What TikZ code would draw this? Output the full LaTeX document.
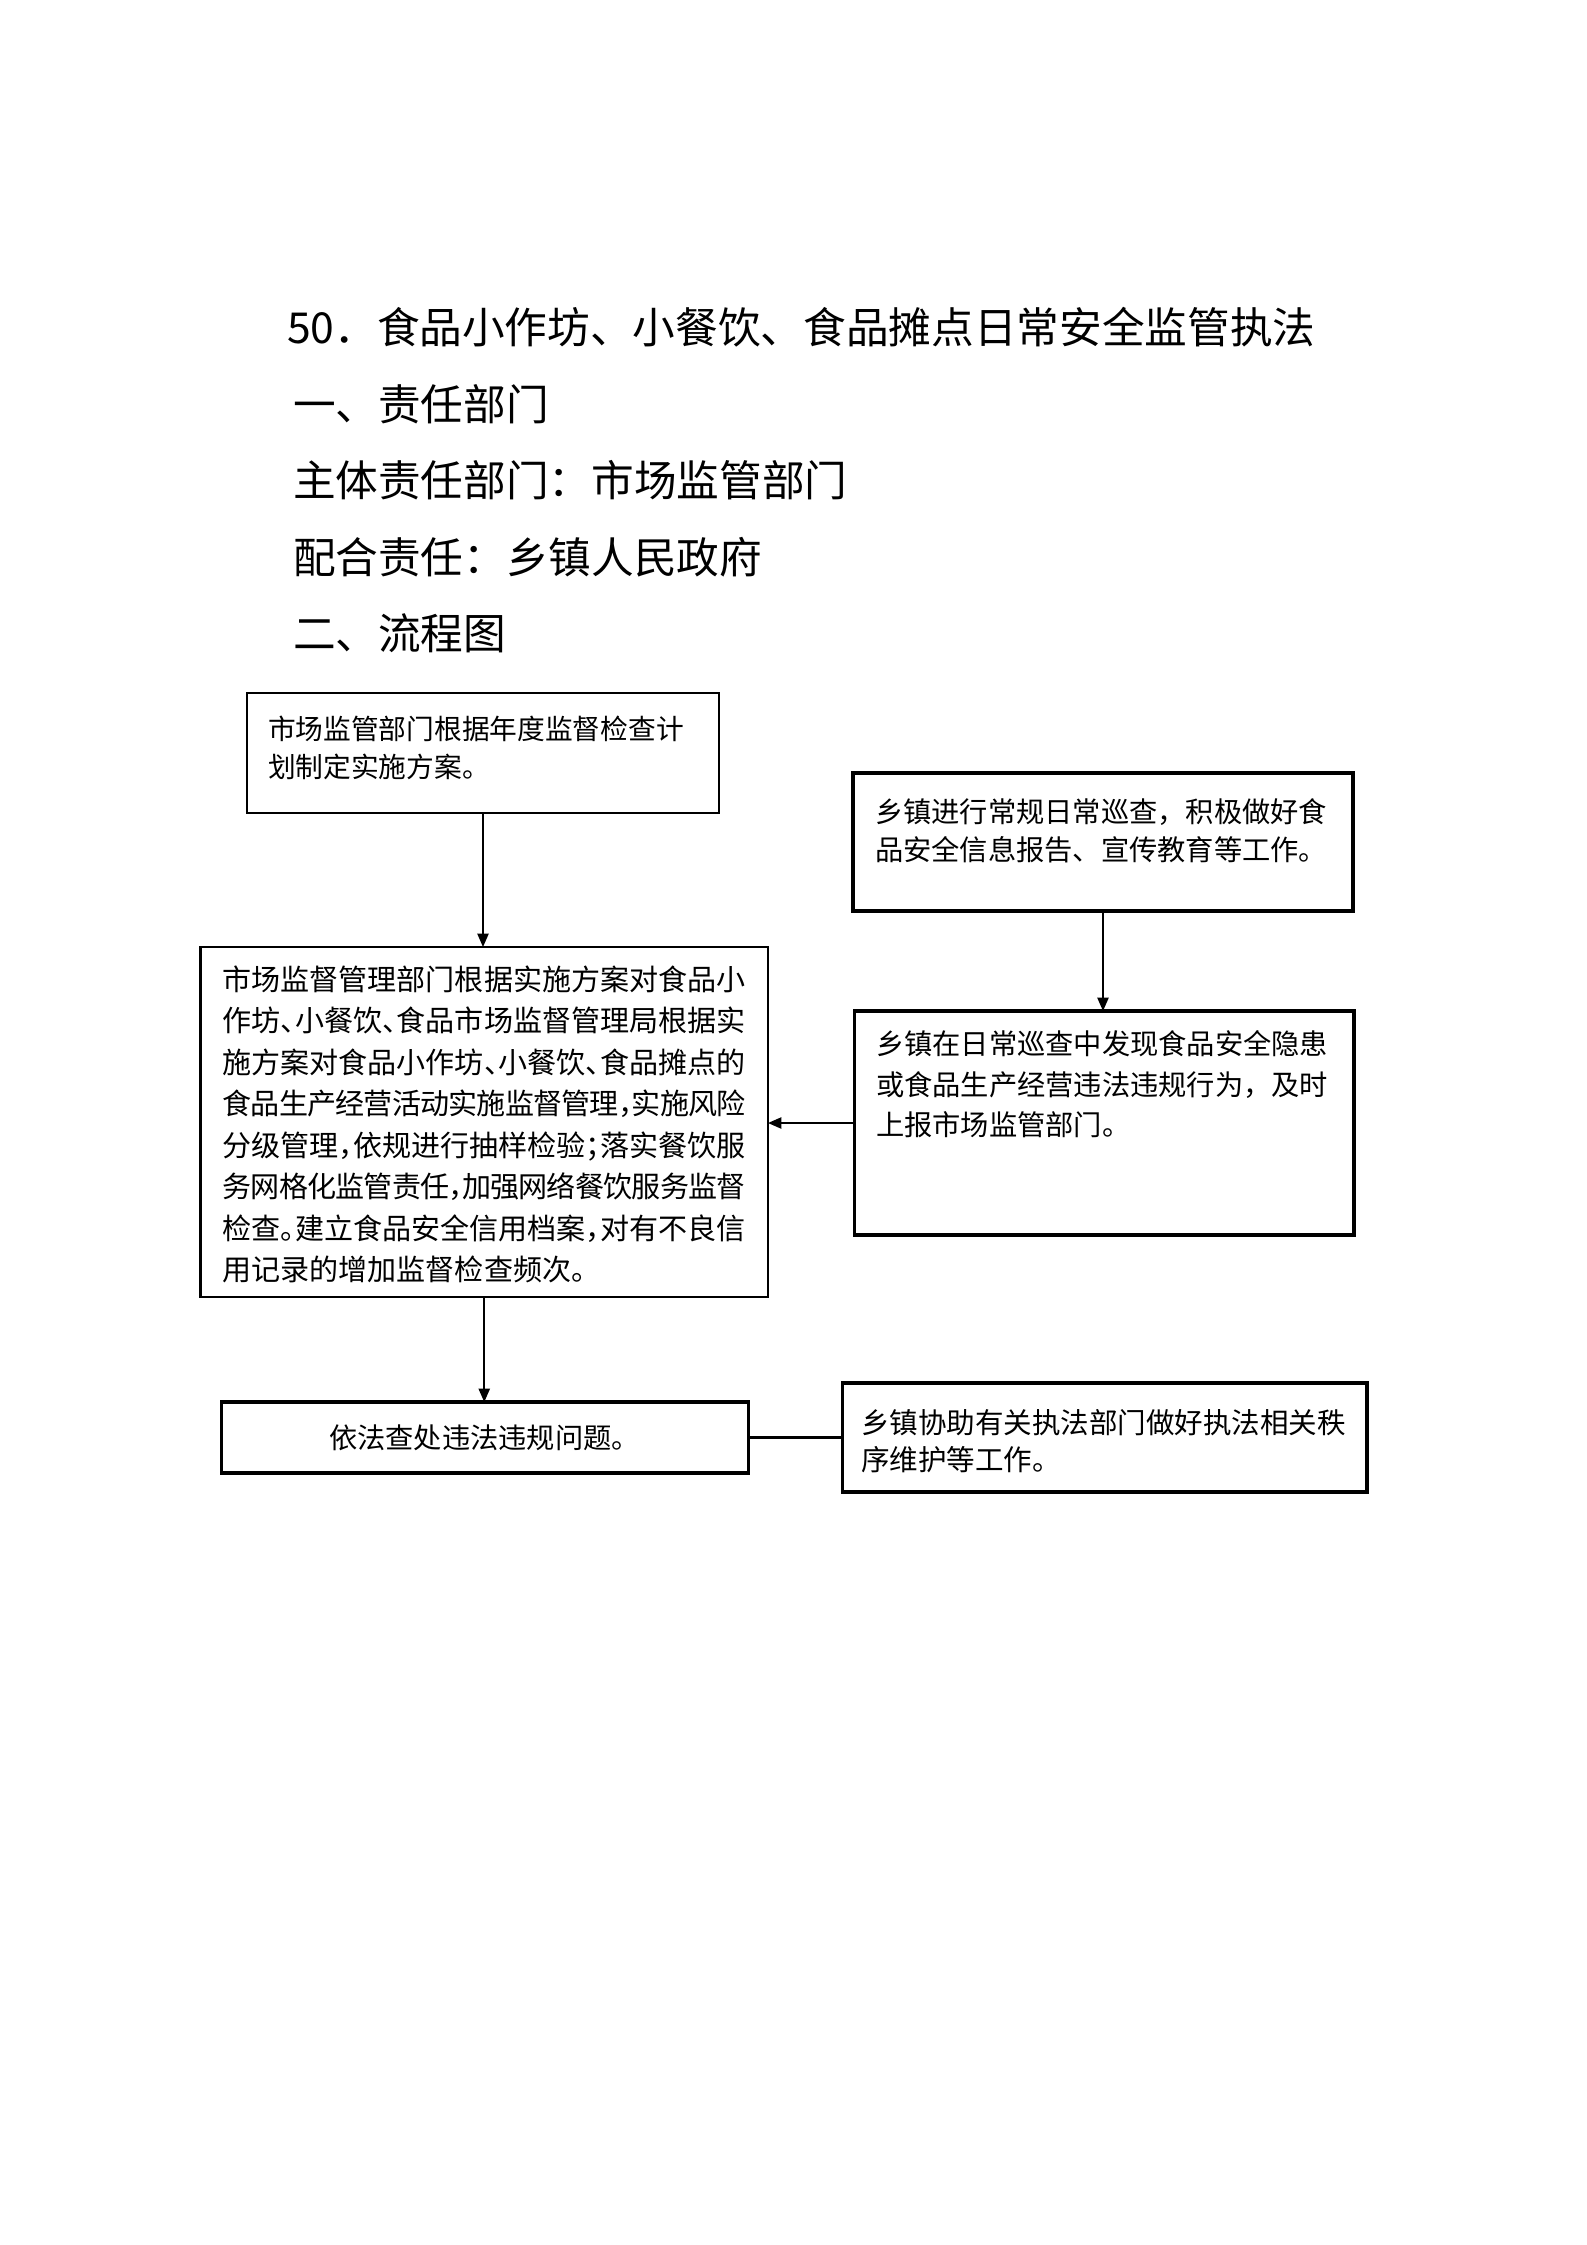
\documentclass[tikz,border=0pt]{standalone}
\usepackage{fontspec}
\setmainfont{Noto Sans CJK SC}
\usetikzlibrary{arrows.meta,fit}
\makeatletter
\newcommand\cjkline[1]{\hbox to 18em{\@tfor\cjkx:=#1\do{\cjkx\hss}\unskip}}
\makeatother
\newcommand\halfp[1]{\makebox[.5em][l]{#1}}
\begin{document}
\begin{tikzpicture}[x=0.3751pt,y=-0.3751pt,
  box/.style={draw, inner sep=0pt, outer sep=0pt},
  thinbox/.style={box, line width=0.85pt},
  thickbox/.style={box, line width=1.2pt},
  txt/.style={inner sep=0pt, outer sep=0pt, anchor=base west, align=left},
  head/.style={inner sep=0pt, outer sep=0pt, anchor=base west, font=\fontsize{16pt}{20pt}\selectfont},
  conn/.style={line width=0.6pt, -{Triangle[length=5pt,width=4.2pt]}},
  link/.style={line width=0.9pt}]
\fill[white] (0,0) rectangle (1587,2245);
\useasboundingbox (0,0) rectangle (1587,2245);

% headings
\node[head] (title) at (287,343) {50．食品小作坊、小餐饮、食品摊点日常安全监管执法};
\node[head] (h1) at (293,420) {一、责任部门};
\node[head] (h2) at (293,496.7) {主体责任部门：市场监管部门};
\node[head] (h3) at (293,573.3) {配合责任：乡镇人民政府};
\node[head] (h4) at (293,649.3) {二、流程图};

% boxes
\node[thinbox, fit={(247,693) (719,813)}] (b1) {};
\node[thickbox, fit={(853,773) (1353,911)}] (b2) {};
\node[thinbox, line width=1pt, fit={(200.5,947) (768,1297)}] (b3) {};
\node[thickbox, fit={(854.5,1011) (1354,1235)}] (b4) {};
\node[thickbox, fit={(221.4,1402) (748.6,1473)}] (b5) {};
\node[thickbox, fit={(842.7,1383) (1367,1492)}] (b6) {};

% texts (base anchor = baseline of the last line)
\node[txt, font=\fontsize{10.4pt}{14.25pt}\selectfont] (t1) at (268,777.8)
  {市场监管部门根据年度监督检查计\\划制定实施方案。};
\node[txt, font=\fontsize{10.6pt}{14.1pt}\selectfont] (t2) at (875,860.2)
  {乡镇进行常规日常巡查，积极做好食\\品安全信息报告、宣传教育等工作。};
\node[txt, font=\fontsize{10.9pt}{15.57pt}\selectfont] (t3) at (222.5,1280.8)
  {\cjkline{市场监督管理部门根据实施方案对食品小}\\
   \cjkline{作坊{\halfp{、}}小餐饮{\halfp{、}}食品市场监督管理局根据实}\\
   \cjkline{施方案对食品小作坊{\halfp{、}}小餐饮{\halfp{、}}食品摊点的}\\
   \cjkline{食品生产经营活动实施监督管理{\halfp{，}}实施风险}\\
   \cjkline{分级管理{\halfp{，}}依规进行抽样检验{\halfp{；}}落实餐饮服}\\
   \cjkline{务网格化监管责任{\halfp{，}}加强网络餐饮服务监督}\\
   \cjkline{检查{\halfp{。}}建立食品安全信用档案{\halfp{，}}对有不良信}\\
   用记录的增加监督检查频次。};
\node[txt, font=\fontsize{10.6pt}{15.3pt}\selectfont] (t4) at (876,1135.8)
  {乡镇在日常巡查中发现食品安全隐患\\或食品生产经营违法违规行为，及时\\上报市场监管部门。};
\node[txt, font=\fontsize{10.6pt}{14pt}\selectfont] (t5) at (329,1448.3)
  {依法查处违法违规问题。};
\node[txt, font=\fontsize{10.7pt}{13.8pt}\selectfont] (t6) at (861,1470.7)
  {乡镇协助有关执法部门做好执法相关秩\\序维护等工作。};

% connectors
\draw[conn] (b1.south) -- (b1.south |- b3.north);
\draw[conn] (b2.south) -- (b2.south |- b4.north);
\draw[conn] (b4.west) -- (b4.west -| b3.east);
\draw[conn] (b3.south) -- (b3.south |- b5.north);
\draw[link] (b5.east) -- (b5.east -| b6.west);
\end{tikzpicture}
\end{document}
